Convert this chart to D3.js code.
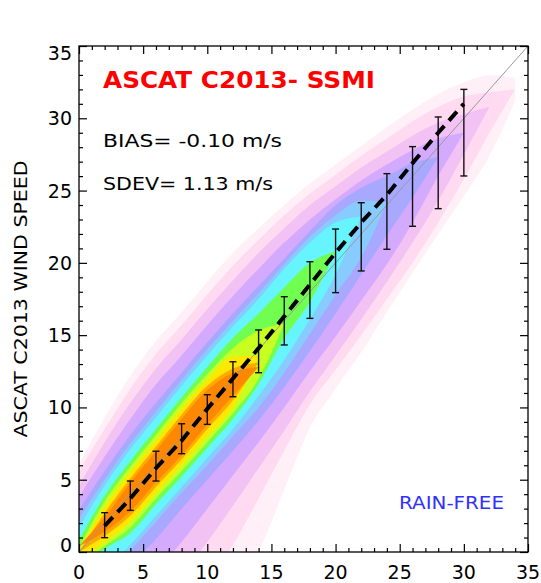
<!DOCTYPE html>
<html><head><meta charset="utf-8">
<script src="https://cdn.jsdelivr.net/npm/d3@7"></script>
<style>body{margin:0;background:#fff} svg{display:block}</style>
</head><body><svg id="c" width="541" height="583"></svg>
<script>
// ---------- data ----------
const binX     = [2, 4, 6, 8, 10, 12, 14, 16, 18, 20, 22, 24, 26, 28, 30];
const binMean  = [1.8, 3.7, 5.8, 7.7, 9.9, 12.0, 14.1, 16.3, 18.5, 20.7, 22.8, 24.7, 26.9, 29.0, 31.0];
const barLow   = [0.99, 2.88, 4.91, 6.80, 8.83, 10.74, 12.40, 14.32, 16.16, 17.94, 19.44, 20.94, 22.53, 23.75, 26.01];
const barHigh  = [2.72, 4.91, 6.97, 8.87, 10.88, 13.16, 15.36, 17.66, 20.08, 22.34, 24.16, 26.17, 28.04, 30.09, 32.00];

const axisTicks = [0, 5, 10, 15, 20, 25, 30, 35];
const axisTickLabels = ["0", "5", "10", "15", "20", "25", "30", "35"];

// density contour bands: upper / lower edge (m/s) on gridX, outer -> inner
const gridX = [0, 2, 4, 6, 8, 10, 12, 14, 16, 18, 20, 22, 24, 26, 28, 30, 32, 34];
const bandColors = ["#fff0f8", "#ffdaf0", "#f2c2f4", "#d4aaff", "#a8a8ff", "#88ccff", "#66f4ff", "#70ff50", "#c8ff20", "#ffe800", "#ffaa00", "#ff8800"];
const vlpinkHi = [6.1, 9.3, 12.2, 14.6, 16.6, 18.7, 20.7, 22.4, 24.0, 25.5, 26.8, 28.1, 29.4, 30.6, 31.7, 32.5, 33.0, 32.8];
const vlpinkLo = [-12, -10, -8, -6, -5, -4, -3, 0.0, 4.3, 8.6, 11.3, 13.8, 16.6, 19.3, 22.0, 24.6, 27.4, 31.2];
const pinkHi   = [5.6, 8.5, 11.3, 13.7, 15.7, 17.8, 19.8, 21.6, 23.3, 24.8, 26.1, 27.4, 28.6, 29.8, 30.8, 31.5, 31.8, 32.0];
const pinkLo   = [-11, -9, -7, -5, -4, -2, 0.5, 3.7, 7.0, 10.2, 12.6, 15.0, 17.5, 20.0, 22.8, 25.8, 29.0, 32.0];
const pinkLavHi = [4.6, 7.6, 10.3, 12.7, 14.7, 16.8, 18.8, 20.7, 22.4, 24.0, 25.3, 26.6, 27.7, 28.8, 29.7, 30.3, 30.8, null];
const pinkLavLo = [-10, -7.5, -5.5, -3.5, -1.5, 0.7, 3.2, 5.8, 8.4, 11.1, 13.6, 16.1, 18.7, 21.4, 24.3, 27.5, 30.8, null];
const lavHi    = [3.8, 6.6, 9.2, 11.6, 13.6, 15.7, 17.7, 19.6, 21.4, 23.0, 24.4, 25.7, 26.8, 27.8, 28.6, 29.0, null, null];
const lavLo    = [-7, -5.5, -3.5, -1.4, 0.7, 3.0, 5.3, 7.6, 10.0, 12.5, 14.9, 17.4, 19.9, 22.8, 26.0, 29.0, null, null];
const periHi   = [2.9, 5.6, 8.1, 10.3, 12.4, 14.5, 16.5, 18.4, 20.3, 22.2, 24.0, 25.2, 26.0, 26.9, 27.3, null, null, null];
const periLo   = [-4.5, -3.0, -1.0, 0.9, 3.0, 5.0, 7.0, 9.1, 11.4, 13.9, 16.5, 19.2, 21.9, 24.5, 27.3, null, null, null];
const lblueHi  = [2.3, 5.0, 7.5, 9.7, 11.9, 14.0, 16.0, 17.9, 19.9, 21.8, 23.3, 24.3, 24.2, null, null, null, null, null];
const lblueLo  = [-3.6, -1.8, 0.1, 2.1, 4.1, 6.0, 8.0, 10.0, 12.4, 15.1, 17.8, 20.4, 24.2, null, null, null, null, null];
const cyanHi   = [1.7, 4.6, 7.1, 9.3, 11.5, 13.6, 15.6, 17.5, 19.6, 21.4, 22.8, 23.2, null, null, null, null, null, null];
const cyanLo   = [-3.0, -1.2, 0.5, 2.5, 4.5, 6.5, 8.5, 10.8, 13.3, 16.1, 19.2, 23.2, null, null, null, null, null, null];
const greenHi  = [0.8, 3.9, 6.3, 8.5, 10.7, 12.8, 14.8, 16.5, 18.3, 20.0, 20.8, null, null, null, null, null, null, null];
const greenLo  = [-1.4, 0.2, 1.3, 3.3, 5.2, 7.2, 9.2, 11.6, 14.8, 17.3, 20.8, null, null, null, null, null, null, null];
const ygreenHi = [0.3, 3.5, 5.9, 8.1, 10.3, 12.3, 14.1, 15.3, 15.8, null, null, null, null, null, null, null, null, null];
const ygreenLo = [-1.0, 0.4, 1.7, 3.7, 5.6, 7.6, 9.6, 12.0, 15.8, null, null, null, null, null, null, null, null, null];
const yellowHi = [0.0, 3.1, 5.5, 7.7, 9.9, 11.9, 13.5, 13.6, null, null, null, null, null, null, null, null, null, null];
const yellowLo = [-0.6, 0.7, 2.1, 4.1, 6.0, 8.0, 10.0, 13.6, null, null, null, null, null, null, null, null, null, null];
const lorangeHi = [0.0, 2.7, 5.1, 7.3, 9.5, 11.5, 12.7, 13.1, null, null, null, null, null, null, null, null, null, null];
const lorangeLo = [0.0, 1.1, 2.5, 4.5, 6.4, 8.5, 10.5, 13.1, null, null, null, null, null, null, null, null, null, null];
const orangeHi = [0.4, 2.4, 4.8, 7.0, 9.2, 11.2, 12.4, 12.8, null, null, null, null, null, null, null, null, null, null];
const orangeLo = [0.4, 1.4, 2.8, 4.8, 6.7, 8.8, 10.8, 12.8, null, null, null, null, null, null, null, null, null, null];

const titleText = "ASCAT C2013- SSMI";
const biasText = "BIAS= -0.10 m/s";
const sdevText = "SDEV= 1.13 m/s";
const flagText = "RAIN-FREE";
const yTitle = "ASCAT C2013 WIND SPEED";

// ---------- drawing ----------
const svg = d3.select("#c");
const x = d3.scaleLinear().domain([0, 35]).range([79, 528]);
const y = d3.scaleLinear().domain([0, 35]).range([552, 46]);

svg.append("defs").append("clipPath").attr("id", "plot")
  .append("rect").attr("x", x(0)).attr("y", y(35))
  .attr("width", x(35) - x(0)).attr("height", y(0) - y(35));

const bandHi = [vlpinkHi, pinkHi, pinkLavHi, lavHi, periHi, lblueHi, cyanHi, greenHi, ygreenHi, yellowHi, lorangeHi, orangeHi];
const bandLo = [vlpinkLo, pinkLo, pinkLavLo, lavLo, periLo, lblueLo, cyanLo, greenLo, ygreenLo, yellowLo, lorangeLo, orangeLo];

const area = d3.area()
  .defined(d => d.hi != null)
  .x(d => x(d.x)).y0(d => y(d.lo)).y1(d => y(d.hi))
  .curve(d3.curveMonotoneX);

const gBands = svg.append("g").attr("clip-path", "url(#plot)");
bandColors.forEach((c, i) => {
  const pts = gridX.map((gx, j) => ({x: gx, hi: bandHi[i][j], lo: bandLo[i][j]}));
  gBands.append("path").datum(pts).attr("d", area).attr("fill", c);
});

// 1:1 line
svg.append("line").attr("x1", x(0)).attr("y1", y(0)).attr("x2", x(35)).attr("y2", y(35))
  .attr("stroke", "#999").attr("stroke-width", 1);

// error bars
const gErr = svg.append("g").attr("stroke", "#111").attr("stroke-width", 1.4);
binX.forEach((bx, i) => {
  gErr.append("line").attr("x1", x(bx)).attr("x2", x(bx)).attr("y1", y(barLow[i])).attr("y2", y(barHigh[i]));
  gErr.append("line").attr("x1", x(bx) - 3.5).attr("x2", x(bx) + 3.5).attr("y1", y(barLow[i])).attr("y2", y(barLow[i]));
  gErr.append("line").attr("x1", x(bx) - 3.5).attr("x2", x(bx) + 3.5).attr("y1", y(barHigh[i])).attr("y2", y(barHigh[i]));
});

// mean dashed line
const line = d3.line().x((d, i) => x(binX[i])).y(d => y(d));
svg.append("path").datum(binMean).attr("d", line).attr("fill", "none")
  .attr("stroke", "#000").attr("stroke-width", 4).attr("stroke-dasharray", "12,7");

// axes box & ticks
const minor = d3.range(0, 36, 1);
function ticks(axisGen, transform) {
  const g = svg.append("g").attr("transform", transform).call(axisGen);
  g.selectAll("text").remove();
  g.select(".domain").remove();
  g.selectAll("line").attr("stroke", "#000").attr("stroke-width", 1.2);
  return g;
}
const isMajor = d => d % 5 === 0;
[["bottom", `translate(0,${y(0)})`], ["top", `translate(0,${y(35)})`]].forEach(([side, tr]) => {
  const gen = (side === "bottom" ? d3.axisBottom(x) : d3.axisTop(x)).tickValues(minor).tickSize(-1);
  const g = ticks(gen, tr);
  g.selectAll(".tick line").attr("y2", d => (side === "bottom" ? -1 : 1) * (isMajor(d) ? 8 : 4));
});
[["left", `translate(${x(0)},0)`], ["right", `translate(${x(35)},0)`]].forEach(([side, tr]) => {
  const gen = (side === "left" ? d3.axisLeft(y) : d3.axisRight(y)).tickValues(minor).tickSize(-1);
  const g = ticks(gen, tr);
  g.selectAll(".tick line").attr("x2", d => (side === "left" ? 1 : -1) * (isMajor(d) ? 8 : 4));
});
svg.append("rect").attr("x", x(0)).attr("y", y(35)).attr("width", x(35) - x(0)).attr("height", y(0) - y(35))
  .attr("fill", "none").attr("stroke", "#000").attr("stroke-width", 1.3);

// tick labels
const font = "DejaVu Sans, sans-serif";
axisTicks.forEach((t, i) => {
  let yy = y(t) + 7;
  if (t === 35) yy = y(t) + 13.5;
  if (t === 0) yy = y(t) - 0.5;
  svg.append("text").attr("x", 72).attr("y", yy).attr("text-anchor", "end")
    .attr("font-family", font).attr("font-size", 19).attr("fill", "#000").text(axisTickLabels[i]);
  svg.append("text").attr("x", x(t)).attr("y", 579).attr("text-anchor", "middle")
    .attr("font-family", font).attr("font-size", 19).attr("fill", "#000").text(axisTickLabels[i]);
});

// axis title
svg.append("text").attr("transform", `translate(26.5,${(y(0) + y(35)) / 2}) rotate(-90)`)
  .attr("text-anchor", "middle").attr("font-family", font).attr("font-size", 18)
  .attr("textLength", 277).attr("lengthAdjust", "spacingAndGlyphs").text(yTitle);

// annotations
svg.append("text").attr("x", 103).attr("y", 87.5).attr("font-family", font).attr("font-weight", "bold")
  .attr("font-size", 23).attr("fill", "#ff0000").attr("textLength", 272).attr("lengthAdjust", "spacingAndGlyphs").text(titleText);
svg.append("text").attr("x", 103).attr("y", 147).attr("font-family", font)
  .attr("font-size", 18).attr("fill", "#000").attr("textLength", 179).attr("lengthAdjust", "spacingAndGlyphs").text(biasText);
svg.append("text").attr("x", 103).attr("y", 190).attr("font-family", font)
  .attr("font-size", 18).attr("fill", "#000").attr("textLength", 170).attr("lengthAdjust", "spacingAndGlyphs").text(sdevText);
svg.append("text").attr("x", 399).attr("y", 509).attr("font-family", font)
  .attr("font-size", 18).attr("fill", "#3030ff").attr("textLength", 105).attr("lengthAdjust", "spacingAndGlyphs").text(flagText);
</script></body></html>
